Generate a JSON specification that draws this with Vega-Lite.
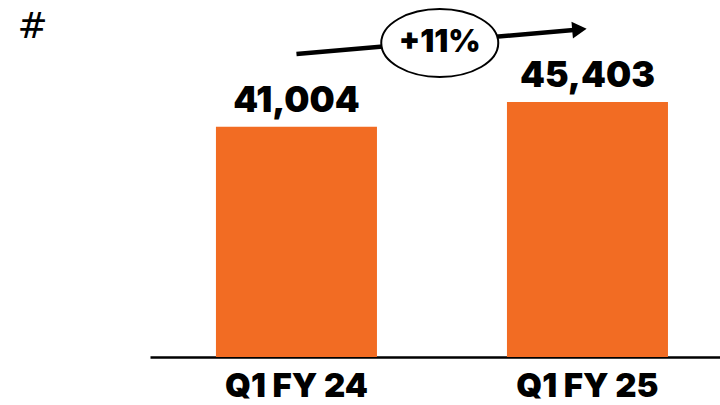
{
  "$schema": "https://vega.github.io/schema/vega-lite/v6.json",
  "width": 570,
  "height": 357,
  "autosize": {"type": "none"},
  "padding": {"left": 150, "top": 0, "right": 0, "bottom": 48},
  "background": "white",
  "config": {"view": {"stroke": null}},
  "datasets": {
    "bars": [
      {"quarter": "Q1 FY 24", "users": 41004, "label": "41,004"},
      {"quarter": "Q1 FY 25", "users": 45403, "label": "45,403"}
    ],
    "growth": [
      {"from": "Q1 FY 24", "to": "Q1 FY 25", "y_start": 53949, "y_end": 58311, "y_mid": 55908, "label": "+11%"}
    ]
  },
  "layer": [
    {
      "data": {"name": "bars"},
      "mark": {"type": "bar", "color": "#F26C23"},
      "encoding": {
        "x": {
          "field": "quarter",
          "type": "nominal",
          "sort": null,
          "scale": {"paddingInner": 0.4467, "paddingOuter": 0.2027, "align": 0.559},
          "axis": {
            "title": null,
            "labelAngle": 0,
            "ticks": false,
            "domain": true,
            "domainColor": "#000000",
            "domainWidth": 2.5,
            "labelFont": "Inter",
            "labelFontSize": 33,
            "labelFontWeight": 900,
            "labelColor": "#000000",
            "labelPadding": 13
          }
        },
        "y": {
          "field": "users",
          "type": "quantitative",
          "scale": {"domain": [0, 63564], "nice": false},
          "axis": {
            "title": "#",
            "titleAngle": 0,
            "titleX": -133,
            "titleY": 26,
            "titleAlign": "left",
            "titleBaseline": "middle",
            "titleFont": "DejaVu Sans",
            "titleFontSize": 36,
            "titleFontWeight": "normal",
            "titleColor": "#000000",
            "labels": false,
            "ticks": false,
            "domain": false,
            "grid": false
          }
        }
      }
    },
    {
      "data": {"name": "bars"},
      "mark": {"type": "text", "baseline": "bottom", "dy": -8, "font": "Inter", "fontSize": 35.5, "fontWeight": 900, "color": "#000000"},
      "encoding": {
        "x": {"field": "quarter", "type": "nominal", "sort": null},
        "y": {"field": "users", "type": "quantitative"},
        "text": {"field": "label"}
      }
    },
    {
      "data": {"name": "growth"},
      "mark": {"type": "rule", "strokeWidth": 4.5, "color": "#000000"},
      "encoding": {
        "x": {"field": "from", "type": "nominal"},
        "x2": {"field": "to", "bandPosition": 0.45},
        "y": {"field": "y_start", "type": "quantitative"},
        "y2": {"field": "y_end"}
      }
    },
    {
      "data": {"name": "growth"},
      "mark": {"type": "point", "shape": "triangle-right", "filled": true, "size": 280, "angle": 355, "color": "#000000", "opacity": 1},
      "encoding": {
        "x": {"field": "to", "type": "nominal", "bandPosition": 0.45},
        "y": {"field": "y_end", "type": "quantitative"}
      }
    },
    {
      "data": {"name": "growth"},
      "mark": {"type": "point", "shape": "M -1,0 A 1,0.58 0 1,1 1,0 A 1,0.58 0 1,1 -1,0 Z", "filled": false, "fill": "white", "fillOpacity": 1, "stroke": "#000000", "strokeWidth": 2, "size": 13689, "opacity": 1},
      "encoding": {
        "x": {"field": "from", "type": "nominal", "bandPosition": 1.39},
        "y": {"field": "y_mid", "type": "quantitative"}
      }
    },
    {
      "data": {"name": "growth"},
      "mark": {"type": "text", "baseline": "middle", "align": "center", "font": "Inter", "fontSize": 31, "fontWeight": 900, "color": "#000000"},
      "encoding": {
        "x": {"field": "from", "type": "nominal", "bandPosition": 1.39},
        "y": {"field": "y_mid", "type": "quantitative"},
        "text": {"field": "label"}
      }
    }
  ]
}
